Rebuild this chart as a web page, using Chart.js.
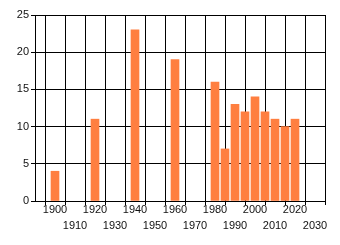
<!DOCTYPE html>
<html>
<head>
<meta charset="utf-8">
<script src="https://cdn.jsdelivr.net/npm/chart.js@4/dist/chart.umd.min.js"></script>
<style>
  html, body { margin: 0; padding: 0; background: #fff; }
  #wrap { width: 340px; height: 245px; }
</style>
</head>
<body>
<div id="wrap"><canvas id="chart" width="340" height="245"></canvas></div>
<script>
// --- Data ---
const years = [1900, 1920, 1940, 1960, 1980, 1985, 1990, 1995, 2000, 2005, 2010, 2015, 2020];
const values = [4, 11, 23, 19, 16, 7, 13, 12, 14, 12, 11, 10, 11];
const yTicks = [0, 5, 10, 15, 20, 25];
const xTickYears = [1900, 1910, 1920, 1930, 1940, 1950, 1960, 1970, 1980, 1990, 2000, 2010, 2020, 2030];

const points = years.map((y, i) => ({ x: y, y: values[i] }));
const font = { family: "'Liberation Sans', Arial, sans-serif", size: 11, lineHeight: "16px" };

new Chart(document.getElementById("chart"), {
  type: "bar",
  data: {
    datasets: [{
      data: points,
      backgroundColor: "#ff7f40",
      borderWidth: 0,
      barThickness: 8
    }]
  },
  options: {
    responsive: false,
    animation: false,
    devicePixelRatio: 1,
    layout: { padding: { top: 15, right: 15, left: 0, bottom: 0 } },
    plugins: { legend: { display: false }, tooltip: { enabled: false } },
    scales: {
      x: {
        type: "linear",
        min: 1890,
        max: 2035,
        offset: false,
        afterFit: s => { s.height = 44; },
        afterBuildTicks: s => { s.ticks = [1890].concat(xTickYears).map(v => ({ value: v })); },
        grid: { color: "#000", lineWidth: 1, tickLength: 4, drawTicks: true },
        border: { color: "#000" },
        ticks: {
          color: "#111",
          font: font,
          padding: -3,
          maxRotation: 0,
          autoSkip: false,
          callback: v => {
            if (!xTickYears.includes(v)) return "";
            return ((v - 1900) / 10) % 2 === 0 ? [String(v), ""] : ["", String(v)];
          }
        }
      },
      y: {
        min: 0,
        max: 25,
        afterFit: s => { s.width = 35; },
        afterBuildTicks: s => { s.ticks = yTicks.map(v => ({ value: v })); },
        grid: { color: "#000", lineWidth: 1, tickLength: 4 },
        border: { color: "#000" },
        ticks: { color: "#111", font: font, padding: 2 }
      }
    }
  }
});
</script>
</body>
</html>
